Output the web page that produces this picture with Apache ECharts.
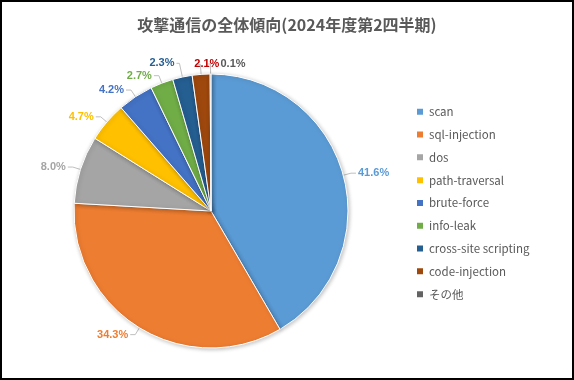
<!DOCTYPE html>
<html><head><meta charset="utf-8">
<script src="https://cdn.jsdelivr.net/npm/echarts@6/dist/echarts.min.js"></script>
<style>html,body{margin:0;padding:0;background:#fff}
#c{position:absolute;left:0;top:0;width:570px;height:376px;border:2px solid #000;}</style>
</head><body><div id="c"></div>
<script>
const titleText = '攻撃通信の全体傾向(2024年度第2四半期)';
const categories = ['scan','sql-injection','dos','path-traversal','brute-force','info-leak','cross-site scripting','code-injection','その他'];
const values = [41.6, 34.3, 8.0, 4.7, 4.2, 2.7, 2.3, 2.1, 0.1];
const colors = ['#5B9BD5','#ED7D31','#A5A5A5','#FFC000','#4472C4','#70AD47','#255E91','#9E480E','#636363'];
const labelColors = ['#5B9BD5','#ED7D31','#A5A5A5','#FFC000','#4472C4','#70AD47','#255E91','#C00000','#595959'];
// label-line lengths per slice (style only)
const lineLen = [8, 8, 8, 8, 8, 8, 14, 10, 10];
const labelShift = [0, 0, 0, 0, 0, 0, 0, 24, 40];

const chart = echarts.init(document.getElementById('c'), null, {renderer:'canvas'});
chart.setOption({
  animation:false,
  title:{text:titleText,left:'center',top:10,textStyle:{fontFamily:'Noto Sans CJK JP',fontSize:16,fontWeight:'bold',color:'#595959'}},
  legend:{orient:'vertical',left:413,top:104,padding:0,itemWidth:8,itemHeight:8,itemGap:11.3,icon:'rect',
    textStyle:{fontFamily:'Noto Sans CJK JP',fontSize:11.5,color:'#595959'},data:categories},
  series:[{type:'pie',center:[209,209],radius:[0,137],startAngle:90,clockwise:true,
    avoidLabelOverlap:false,
    labelLayout:function(p){ return {hideOverlap:false, dx: labelShift[p.dataIndex] || 0}; },
    data:categories.map((n,i)=>({name:n,value:values[i],itemStyle:{color:colors[i]},
      label:{color:labelColors[i]}, labelLine:{length:lineLen[i], length2: i>=6?3:5}})),
    itemStyle:{borderColor:'#fff',borderWidth:1,shadowBlur:4,shadowColor:'rgba(0,0,0,0.25)',shadowOffsetX:1,shadowOffsetY:1},
    label:{show:true,formatter:p=>p.value.toFixed(1)+'%',fontFamily:'Liberation Sans',fontSize:11,fontWeight:'bold',distanceToLabelLine:2},
    labelLine:{show:true,lineStyle:{color:'#BFBFBF',width:1}},
    emphasis:{disabled:true}
  }]
});
</script></body></html>
